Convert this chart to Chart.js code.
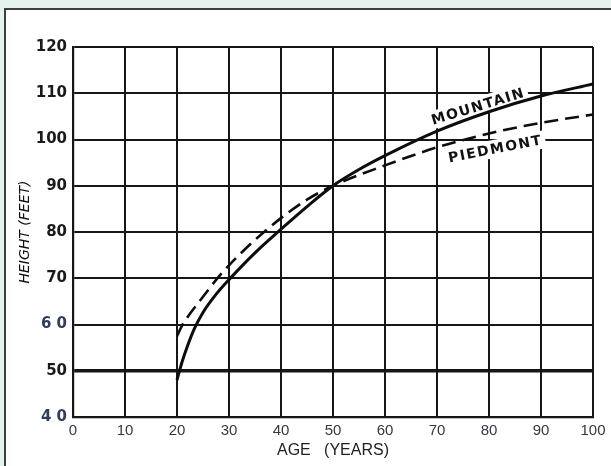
<!DOCTYPE html>
<html><head><meta charset="utf-8">
<script src="https://cdn.jsdelivr.net/npm/chart.js@4/dist/chart.umd.min.js"></script>
<style>
html,body{margin:0;padding:0;background:#e6f2ed;width:611px;height:466px;overflow:hidden;}
#panel{position:absolute;left:4px;top:8px;width:630px;height:480px;border:2px solid #3e3e3e;background:#fff;box-sizing:border-box;}
#wrap{position:absolute;left:0;top:0;width:611px;height:466px;}
</style></head><body>
<div id="panel"></div>
<div id="wrap"><canvas id="c" width="611" height="466"></canvas></div>
<script>
// ---- data ----
const mountainAges    = [20, 21, 22, 23.3, 25, 27.5, 30, 35, 40, 45, 50, 55, 60, 70, 80, 90, 100];
const mountainHeights = [48, 52, 55.3, 59, 62.6, 66.5, 69.7, 75.5, 80.6, 85.5, 90, 93.5, 96.5, 101.8, 106, 109.4, 112];
const piedmontAges    = [20, 21, 25, 28, 30, 35, 40, 45, 50, 60, 70, 80, 90, 100];
const piedmontHeights = [57.5, 59.8, 66, 70.3, 72.8, 78.3, 83, 87, 90, 94.4, 98.3, 101.3, 103.6, 105.4];
const xTickValues = [0, 10, 20, 30, 40, 50, 60, 70, 80, 90, 100];
const xTickLabels = ['0', '10', '20', '30', '40', '50', '60', '70', '80', '90', '100'];
const yTickValues = [40, 50, 60, 70, 80, 90, 100, 110, 120];
const yTickLabels = ['4 0', '50', '6 0', '70', '80', '90', '100', '110', '120'];
const seriesNames = ['MOUNTAIN', 'PIEDMONT'];
const xTitle = 'AGE   (YEARS)';
const yTitle = 'HEIGHT (FEET)';

const toPts = (xs, ys) => xs.map((x, i) => ({x, y: ys[i]}));

const curveLabels = {
  id: 'curveLabels',
  beforeDatasetsDraw(chart) {
    const {ctx, scales: {x, y}} = chart;
    const items = [
      {text: seriesNames[0], ax: 77.9, ay: 107.2, rot: -17},
      {text: seriesNames[1], ax: 81.2, ay: 98.0, rot: -11}
    ];
    ctx.save();
    ctx.font = 'bold 14px "DejaVu Sans"';
    try { ctx.letterSpacing = '1.5px'; } catch (e) {}
    items.forEach(it => {
      const px = x.getPixelForValue(it.ax), py = y.getPixelForValue(it.ay);
      ctx.save();
      ctx.translate(px, py);
      ctx.rotate(it.rot * Math.PI / 180);
      const w = ctx.measureText(it.text).width;
      ctx.fillStyle = '#fff';
      ctx.fillRect(-w / 2 - 3, -9, w + 6, 18);
      ctx.fillStyle = '#111';
      ctx.textAlign = 'center';
      ctx.textBaseline = 'middle';
      ctx.fillText(it.text, 0, 1);
      ctx.restore();
    });
    ctx.restore();
  }
};

new Chart(document.getElementById('c'), {
  type: 'line',
  data: {
    datasets: [
      {label: seriesNames[0], data: toPts(mountainAges, mountainHeights), borderColor: '#0d0d0d',
       borderWidth: 3, pointRadius: 0, cubicInterpolationMode: 'monotone', fill: false},
      {label: seriesNames[1], data: toPts(piedmontAges, piedmontHeights), borderColor: '#0d0d0d',
       borderWidth: 2.6, borderDash: [14, 7], pointRadius: 0, cubicInterpolationMode: 'monotone', fill: false}
    ]
  },
  plugins: [curveLabels],
  options: {
    responsive: false,
    animation: false,
    devicePixelRatio: 1,
    layout: {padding: {left: 0, right: 18, top: 47, bottom: 0}},
    plugins: {legend: {display: false}, tooltip: {enabled: false}},
    scales: {
      x: {
        type: 'linear', min: 0, max: 100,
        afterBuildTicks: s => { s.ticks = xTickValues.map(v => ({value: v})); },
        afterFit: s => { s.height = 49; s.paddingLeft = 0; s.paddingRight = 0; },
        grid: {color: '#161616', lineWidth: 2, drawTicks: false},
        border: {color: '#161616', width: 2.2},
        ticks: {
          padding: 5, color: '#333842', maxRotation: 0, autoSkip: false,
          font: {family: '"Liberation Sans", Arial', size: 15},
          callback: (v) => xTickLabels[xTickValues.indexOf(v)]
        },
        title: {display: true, text: xTitle, color: '#222',
                font: {family: '"Liberation Sans", Arial', size: 16}, padding: {top: 0, bottom: 6}}
      },
      y: {
        type: 'linear', min: 40, max: 120,
        afterBuildTicks: s => { s.ticks = yTickValues.map(v => ({value: v})); },
        afterFit: s => { s.width = 73; s.paddingTop = 0; s.paddingBottom = 0; },
        grid: {color: '#161616', lineWidth: c => (c.tick && c.tick.value === 50 ? 3.5 : 2), drawTicks: false},
        border: {color: '#161616', width: 2.2},
        ticks: {
          padding: 6, autoSkip: false,
          color: c => (c.tick && (c.tick.value === 60 || c.tick.value === 40) ? '#2f3d5e' : '#1a1a1a'),
          font: {family: '"DejaVu Sans"', size: 15, weight: 'bold'},
          callback: (v) => yTickLabels[yTickValues.indexOf(v)]
        },
        title: {display: true, text: yTitle, color: '#111',
                font: {family: '"DejaVu Sans"', size: 14, style: 'italic'}, padding: {top: 17, bottom: 0}}
      }
    }
  }
});
</script>
</body></html>
